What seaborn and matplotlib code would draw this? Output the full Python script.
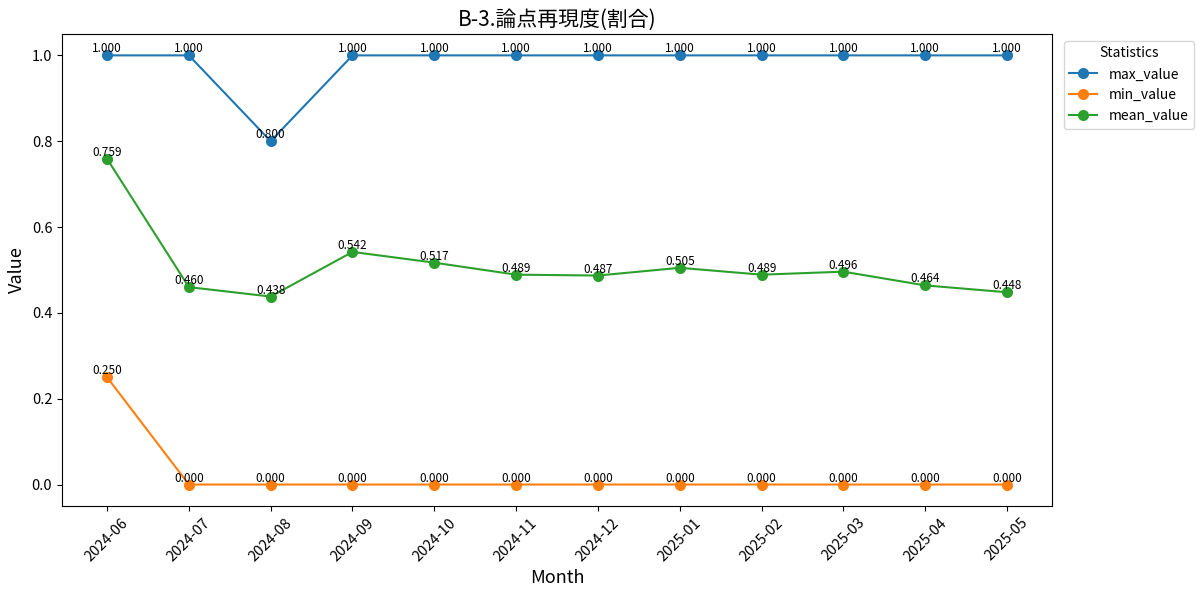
import matplotlib
matplotlib.use("Agg")
import matplotlib.pyplot as plt
import pandas as pd
import seaborn as sns

plt.rcParams['font.family'] = ['Noto Sans CJK JP', 'DejaVu Sans']

months = ["2024-06", "2024-07", "2024-08", "2024-09", "2024-10", "2024-11",
          "2024-12", "2025-01", "2025-02", "2025-03", "2025-04", "2025-05"]
max_value = [1.0, 1.0, 0.8, 1.0, 1.0, 1.0, 1.0, 1.0, 1.0, 1.0, 1.0, 1.0]
min_value = [0.25, 0.0, 0.0, 0.0, 0.0, 0.0, 0.0, 0.0, 0.0, 0.0, 0.0, 0.0]
mean_value = [0.759, 0.460, 0.438, 0.542, 0.517, 0.489, 0.487, 0.505, 0.489, 0.496, 0.464, 0.448]

df = pd.DataFrame({"Month": months, "max_value": max_value,
                   "min_value": min_value, "mean_value": mean_value})
long_df = df.melt(id_vars="Month", var_name="Statistics", value_name="Value")

fig, ax = plt.subplots(figsize=(12, 5.95), dpi=100)
sns.lineplot(data=long_df, x="Month", y="Value", hue="Statistics",
             marker="o", markersize=8, markeredgewidth=0, linewidth=1.5, ax=ax)

for col in ["max_value", "min_value", "mean_value"]:
    for m, v in zip(months, df[col]):
        ax.text(m, v, f"{v:.3f}", ha="center", va="bottom", fontsize=8.5)

ax.set_title("B-3.論点再現度(割合)", fontsize=15)
ax.set_xlabel("Month", fontsize=13)
ax.set_ylabel("Value", fontsize=13)
ax.tick_params(axis="both", labelsize=10.5)
ax.tick_params(axis="x", rotation=45)
ax.legend(title="Statistics", bbox_to_anchor=(1.005, 1), loc="upper left",
          fontsize=10, title_fontsize=10)

fig.subplots_adjust(left=0.0517, right=0.8767, top=0.943, bottom=0.1496)
plt.savefig("out.png")
